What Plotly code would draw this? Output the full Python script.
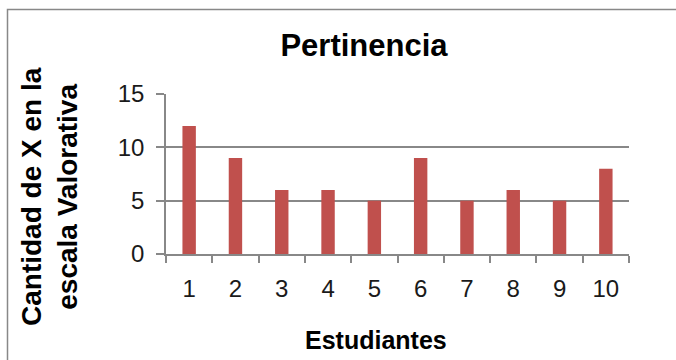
import plotly.graph_objects as go

# Datos del gráfico
estudiantes = ["1", "2", "3", "4", "5", "6", "7", "8", "9", "10"]
cantidad = [12, 9, 6, 6, 5, 9, 5, 6, 5, 8]

titulo = "Pertinencia"
titulo_x = "Estudiantes"
titulo_y = "Cantidad de X en la<br>escala Valorativa"

FONT = "Liberation Sans"
GRIS = "#888888"

fig = go.Figure(
    go.Bar(
        x=estudiantes,
        y=cantidad,
        marker=dict(color="#C0504D", line=dict(width=0)),
        hoverinfo="x+y",
    )
)

W, H = 676, 360
L, R, T, B = 166, 47, 94, 106
pw, ph = W - L - R, H - T - B


def px_x(x):
    return (x - L) / pw


def px_y(y):
    return (H - B - y) / ph


fig.update_layout(
    width=W,
    height=H,
    margin=dict(l=L, r=R, t=T, b=B),
    paper_bgcolor="white",
    plot_bgcolor="white",
    showlegend=False,
    bargap=0.71,
    title=dict(
        text="<b>" + titulo + "</b>",
        x=364 / W,
        xanchor="center",
        y=1 - 45 / H,
        yanchor="middle",
        font=dict(family=FONT, size=31, color="#000000"),
    ),
    xaxis=dict(
        type="category",
        showline=True,
        linecolor=GRIS,
        linewidth=1.5,
        ticks="outside",
        tickson="boundaries",
        ticklen=7,
        tickcolor=GRIS,
        tickwidth=1.5,
        showgrid=False,
        ticklabelstandoff=12,
        tickfont=dict(family=FONT, size=24, color="#1a1a1a"),
    ),
    yaxis=dict(
        range=[0, 15],
        dtick=5,
        showline=True,
        linecolor=GRIS,
        linewidth=1.5,
        ticks="outside",
        ticklen=8,
        tickcolor=GRIS,
        tickwidth=1.5,
        showgrid=True,
        gridcolor=GRIS,
        gridwidth=1.5,
        zeroline=False,
        ticklabelstandoff=7,
        tickfont=dict(family=FONT, size=24, color="#1a1a1a"),
    ),
    annotations=[
        dict(
            text="<b>" + titulo_x + "</b>",
            xref="paper", yref="paper",
            x=px_x(376), y=px_y(340),
            xanchor="center", yanchor="middle",
            showarrow=False,
            font=dict(family=FONT, size=25, color="#000000"),
        ),
        dict(
            text="<b>" + titulo_y + "</b>",
            xref="paper", yref="paper",
            x=px_x(49), y=px_y(197),
            xanchor="center", yanchor="middle",
            textangle=-90,
            showarrow=False,
            font=dict(family=FONT, size=28, color="#000000"),
        ),
    ],
    shapes=[
        dict(
            type="rect",
            xref="paper", yref="paper",
            x0=px_x(7.5), x1=px_x(680),
            y0=px_y(365), y1=px_y(9.5),
            line=dict(color=GRIS, width=1.5),
            fillcolor="rgba(0,0,0,0)",
            layer="below",
        )
    ],
)

fig.write_html("out.html")
